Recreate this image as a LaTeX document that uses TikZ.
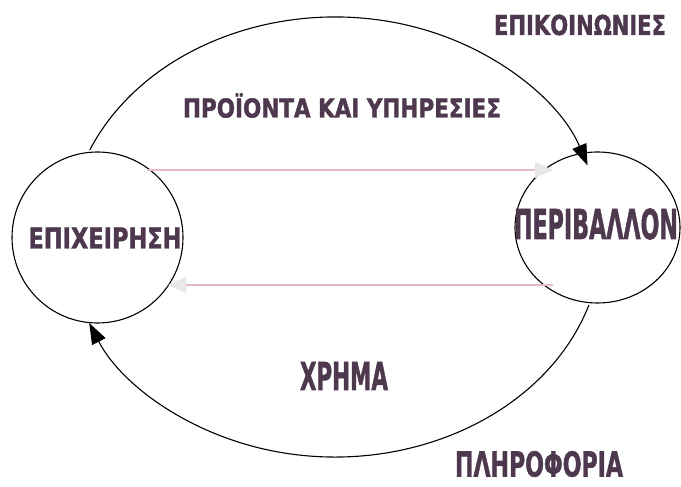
\documentclass[tikz,border=0pt]{standalone}
\usepackage{fontspec}
\usepackage{graphicx}
\usetikzlibrary{arrows.meta,shapes.geometric,calc}
\newfontfamily\lblfont{DejaVu Sans}[BoldFeatures={FakeBold=1.6}]
\definecolor{labelcol}{RGB}{78,56,78}
\definecolor{pinkline}{RGB}{228,188,200}
\definecolor{paletip}{RGB}{232,230,232}
\newcommand\fitlabel[3]{\resizebox{#1}{#2}{\lblfont\bfseries\sbox0{Π}\raisebox{0pt}[\ht0][0pt]{#3}}}
\tikzset{
  lbl/.style={inner sep=0pt, text=labelcol},
  cycleline/.style={draw=black, line width=1.1pt},
  bigtip/.style={-{Triangle[length=21pt,width=15pt]}},
  flowline/.style={draw=pinkline, line width=1.4pt, -{Triangle[length=18pt,width=16pt,color=paletip]}},
  ring/.style={draw=black, line width=1.1pt, inner sep=0pt}
}
\begin{document}
\begin{tikzpicture}[x=1pt,y=1pt]
\path[use as bounding box] (0,0) rectangle (681,487);
% circles
\node[ring, circle, minimum size=171pt] (epix) at (97.5,249.5) {};
\node[ring, ellipse, minimum width=165pt, minimum height=151pt] (peri) at (597.5,259.5) {};
% big cycle
\coordinate (ec) at (335,250);
\coordinate (topstart) at ($(ec)+(156.7:267pt and 220pt)$);
\coordinate (botstart) at ($(ec)+(-18:267pt and 220pt)$);
\draw[cycleline, bigtip] (topstart) arc[start angle=156.7, end angle=19, x radius=267pt, y radius=220pt];
\draw[cycleline, bigtip] (botstart) arc[start angle=-18, end angle=-157, x radius=267pt, y radius=220pt];
% flows
\coordinate (f1s) at (147,317);
\coordinate (f1e) at (553,317);
\coordinate (f2s) at (553,202);
\coordinate (f2e) at (168,202);
\draw[flowline] (f1s) -- (f1e);
\draw[flowline] (f2s) -- (f2e);
% labels
\node[lbl] (lepik) at (580,462) {\fitlabel{172pt}{20pt}{ΕΠΙΚΟΙΝΩΝΙΕΣ}};
\node[lbl] (lproi) at (342,379) {\fitlabel{318pt}{19pt}{ΠΡΟΪΟΝΤΑ ΚΑΙ ΥΠΗΡΕΣΙΕΣ}};
\node[lbl] (lepix) at (105,249) {\fitlabel{153pt}{21pt}{ΕΠΙΧΕΙΡΗΣΗ}};
\node[lbl] (lperi) at (596,263) {\fitlabel{164pt}{30pt}{ΠΕΡΙΒΑΛΛΟΝ}};
\node[lbl] (lxrim) at (344,111) {\fitlabel{88pt}{28pt}{ΧΡΗΜΑ}};
\node[lbl] (lplir) at (539,23) {\fitlabel{168pt}{25pt}{ΠΛΗΡΟΦΟΡΙΑ}};
\end{tikzpicture}
\end{document}
